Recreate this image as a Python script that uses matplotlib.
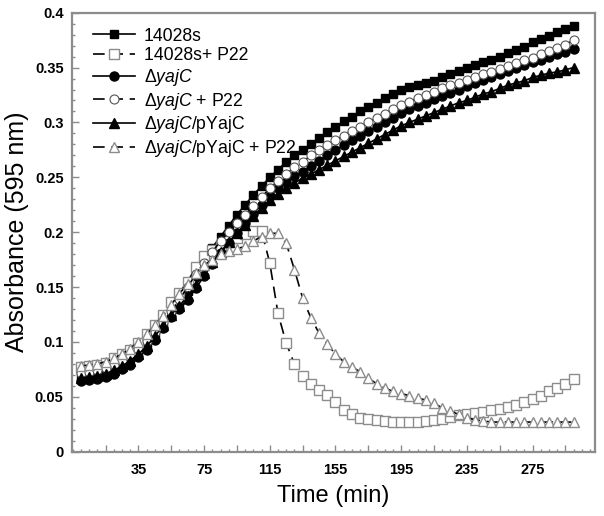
import matplotlib
matplotlib.use("Agg")
import matplotlib.pyplot as plt
from matplotlib.ticker import MultipleLocator, FixedLocator, FixedFormatter

plt.rcParams['font.family'] = ['Liberation Sans', 'DejaVu Sans']
plt.rcParams['mathtext.fontset'] = 'custom'
plt.rcParams['mathtext.it'] = 'Liberation Sans:italic'
plt.rcParams['mathtext.rm'] = 'Liberation Sans'

time_min = list(range(0, 301, 5))

wt = [0.070, 0.071, 0.072, 0.073, 0.076, 0.080, 0.085, 0.090, 0.098, 0.105,
      0.114, 0.124, 0.135, 0.146, 0.160, 0.174, 0.186, 0.196, 0.206, 0.216,
      0.225, 0.234, 0.242, 0.250, 0.257, 0.264, 0.270, 0.275, 0.280, 0.286,
      0.291, 0.296, 0.301, 0.305, 0.310, 0.314, 0.318, 0.322, 0.326, 0.330,
      0.332, 0.334, 0.336, 0.338, 0.341, 0.344, 0.347, 0.350, 0.352, 0.355,
      0.357, 0.360, 0.363, 0.366, 0.369, 0.373, 0.376, 0.379, 0.382, 0.385, 0.388]

wt_p22 = [0.077, 0.078, 0.079, 0.081, 0.085, 0.089, 0.093, 0.099, 0.107, 0.115,
          0.125, 0.136, 0.145, 0.155, 0.168, 0.178, 0.184, 0.188, 0.192, 0.195,
          0.198, 0.201, 0.201, 0.172, 0.126, 0.099, 0.080, 0.069, 0.062, 0.056,
          0.052, 0.045, 0.038, 0.034, 0.031, 0.030, 0.029, 0.028, 0.027, 0.027,
          0.027, 0.027, 0.028, 0.029, 0.030, 0.032, 0.033, 0.034, 0.035, 0.036,
          0.038, 0.039, 0.041, 0.043, 0.045, 0.048, 0.051, 0.055, 0.058, 0.062, 0.066]

yajc = [0.064, 0.065, 0.066, 0.068, 0.071, 0.075, 0.079, 0.086, 0.093, 0.102,
        0.113, 0.123, 0.130, 0.138, 0.149, 0.160, 0.171, 0.181, 0.190, 0.199,
        0.208, 0.217, 0.225, 0.233, 0.240, 0.246, 0.251, 0.255, 0.260, 0.265,
        0.270, 0.275, 0.279, 0.284, 0.288, 0.292, 0.296, 0.300, 0.304, 0.309,
        0.312, 0.315, 0.318, 0.321, 0.324, 0.327, 0.330, 0.333, 0.336, 0.339,
        0.341, 0.344, 0.347, 0.350, 0.352, 0.355, 0.357, 0.360, 0.362, 0.364, 0.367]

yajc_p22 = [0.072, 0.073, 0.074, 0.076, 0.079, 0.083, 0.088, 0.094, 0.101, 0.109,
            0.118, 0.128, 0.139, 0.150, 0.162, 0.172, 0.182, 0.192, 0.200, 0.208,
            0.216, 0.224, 0.232, 0.240, 0.247, 0.253, 0.259, 0.264, 0.270, 0.275,
            0.279, 0.284, 0.288, 0.292, 0.296, 0.300, 0.304, 0.308, 0.312, 0.316,
            0.319, 0.322, 0.325, 0.328, 0.331, 0.334, 0.336, 0.339, 0.341, 0.344,
            0.346, 0.349, 0.351, 0.354, 0.357, 0.359, 0.362, 0.365, 0.368, 0.371, 0.375]

comp = [0.067, 0.068, 0.069, 0.071, 0.074, 0.078, 0.083, 0.089, 0.096, 0.105,
        0.115, 0.125, 0.133, 0.142, 0.152, 0.163, 0.173, 0.182, 0.191, 0.199,
        0.207, 0.215, 0.222, 0.229, 0.235, 0.240, 0.245, 0.249, 0.253, 0.257,
        0.261, 0.265, 0.269, 0.273, 0.277, 0.281, 0.285, 0.289, 0.293, 0.297,
        0.300, 0.303, 0.306, 0.309, 0.312, 0.315, 0.318, 0.320, 0.323, 0.326,
        0.328, 0.331, 0.334, 0.336, 0.338, 0.341, 0.343, 0.345, 0.346, 0.348, 0.350]

comp_p22 = [0.078, 0.079, 0.080, 0.082, 0.085, 0.089, 0.094, 0.100, 0.107, 0.115,
            0.124, 0.134, 0.144, 0.153, 0.163, 0.170, 0.175, 0.180, 0.183, 0.185,
            0.187, 0.192, 0.196, 0.199, 0.199, 0.190, 0.166, 0.140, 0.122, 0.108,
            0.098, 0.089, 0.082, 0.077, 0.073, 0.067, 0.062, 0.058, 0.055, 0.053,
            0.051, 0.049, 0.047, 0.044, 0.040, 0.037, 0.034, 0.031, 0.029, 0.028,
            0.027, 0.027, 0.027, 0.027, 0.027, 0.027, 0.027, 0.027, 0.027, 0.027, 0.027]

labels = ['14028s', '14028s+ P22', 'Δ$\\it{yajC}$', 'Δ$\\it{yajC}$ + P22',
          'Δ$\\it{yajC}$/pYajC', 'Δ$\\it{yajC}$/pYajC + P22']

x_ticklabels = [35, 75, 115, 155, 195, 235, 275]
y_ticks = [0, 0.05, 0.1, 0.15, 0.2, 0.25, 0.3, 0.35, 0.4]
y_ticklabels = ['0', '0.05', '0.1', '0.15', '0.2', '0.25', '0.3', '0.35', '0.4']

fig = plt.figure(figsize=(6.04, 5.16), dpi=100)
ax = fig.add_axes([0.119, 0.1246, 0.866, 0.8508])

dash = (0, (7, 4))
gray = '#8c8c8c'
styles = [
    dict(marker='s', ms=6, mfc='black', mec='black', ls='-'),
    dict(marker='s', ms=6.5, mfc='white', mec=gray, mew=1.0, ls=dash),
    dict(marker='o', ms=6.5, mfc='black', mec='black', ls='-'),
    dict(marker='o', ms=6.5, mfc='white', mec='#555555', mew=0.8, ls=dash),
    dict(marker='^', ms=6.5, mfc='black', mec='black', ls='-'),
    dict(marker='^', ms=7, mfc='white', mec=gray, mew=1.0, ls=dash),
]
series = [wt, wt_p22, yajc, yajc_p22, comp, comp_p22]
for ys, lab, st in zip(series, labels, styles):
    ax.plot(time_min, ys, color='black', lw=1.2, label=lab, **st)

ax.set_xlim(-5.5, 313)
ax.set_ylim(0, 0.4)

major_x = list(range(15, 313, 20))
ax.xaxis.set_major_locator(FixedLocator(major_x))
ax.xaxis.set_major_formatter(FixedFormatter(
    [str(v) if v in x_ticklabels else '' for v in major_x]))
ax.xaxis.set_minor_locator(MultipleLocator(5))
ax.set_yticks(y_ticks)
ax.set_yticklabels(y_ticklabels)
ax.yaxis.set_minor_locator(MultipleLocator(0.01))

ax.tick_params(which='major', direction='in', length=5, width=1, color=gray,
               labelsize=10.5)
ax.tick_params(which='minor', direction='in', length=2.5, width=1, color=gray)
ax.tick_params(axis='x', which='major', pad=8)
ax.tick_params(axis='y', which='major', pad=6)
for lab in ax.get_xticklabels() + ax.get_yticklabels():
    lab.set_fontweight('bold')
for sp in ax.spines.values():
    sp.set_color(gray)
    sp.set_linewidth(1.6)

ax.set_xlabel('Time (min)', fontsize=17, labelpad=6)
ax.set_ylabel('Absorbance (595 nm)', fontsize=18, labelpad=4)

leg = ax.legend(loc='upper left', bbox_to_anchor=(0.02, 0.99), frameon=False,
                fontsize=12.7, handlelength=2.4, handletextpad=0.5,
                labelspacing=0.15, borderaxespad=0.2)

fig.savefig('out.png', dpi=100)
